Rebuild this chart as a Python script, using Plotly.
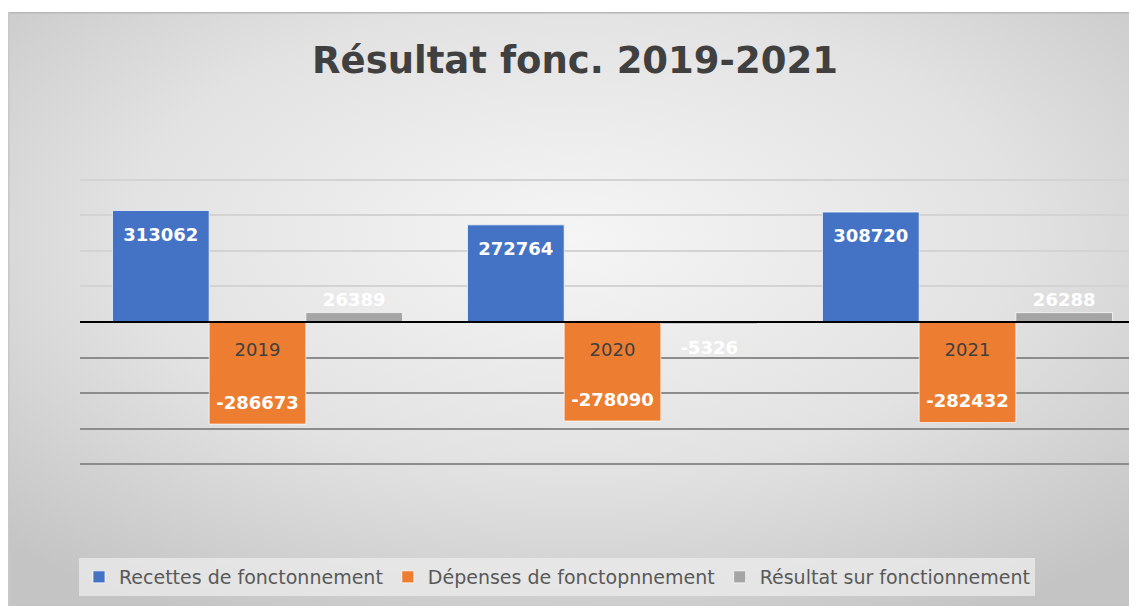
import base64
import plotly.graph_objects as go

years = ["2019", "2020", "2021"]
recettes = [313062, 272764, 308720]
depenses = [-286673, -278090, -282432]
resultat = [26389, -5326, 26288]
series_names = ["Recettes de fonctonnement", "Dépenses de fonctopnnement", "Résultat sur fonctionnement"]
title_text = "Résultat fonc. 2019-2021"
grid_pos = [100000, 200000, 300000, 400000]
grid_neg = [-100000, -200000, -300000, -400000]
y_lim = 410000

# browser body margin (8px) offsets the figure inside the window
OFF = 8
WIN_W, WIN_H = 1137, 606
W, H = WIN_W - OFF, WIN_H - OFF

def fx(px):  # window x -> figure x
    return px - OFF

def fy(py):  # window y -> figure y
    return py - OFF

scale = 35.5 / 100000.0          # px per unit
zero_y = fy(322)
L = fx(80)
cat_w = 355.0
R = 2
pw = W - L - R
ph = 2 * y_lim * scale
T = zero_y - y_lim * scale
B = H - T - ph

box_x0, box_y0 = fx(8), fy(13)
svg = f'''<svg xmlns="http://www.w3.org/2000/svg" width="{W-box_x0}" height="{H-box_y0}" viewBox="0 0 {W-box_x0} {H-box_y0}" preserveAspectRatio="none">
<defs><radialGradient id="g" cx="50%" cy="38%" r="72%">
<stop offset="0%" stop-color="#f5f5f5"/><stop offset="55%" stop-color="#e2e2e2"/><stop offset="100%" stop-color="#c4c4c4"/>
</radialGradient></defs>
<rect width="100%" height="100%" fill="url(#g)"/>
<rect x="0" y="0" width="100%" height="1.5" fill="#b8b8b8"/>
<rect x="0" y="0" width="1.5" height="100%" fill="#c8c8c8"/>
</svg>'''
src = "data:image/svg+xml;base64," + base64.b64encode(svg.encode()).decode()

colors = ["#4472C4", "#ED7D31", "#A5A5A5"]
LAB_SIZE = 18
lab_font = dict(family="DejaVu Sans", size=8, color="white", weight=700)   # small base size = tight line gap

def big(s):
    return f"<span style='font-size:{LAB_SIZE}px'>{s}</span>"

def label(v, inside):
    # a spacer line keeps the label away from the bar end, as in the original
    if inside:
        return f"{big(' ')}<br>{big(v)}" if v >= 0 else f"{big(v)}<br> "
    return big(v) if v >= 0 else f"{big(' ')}<br>{big(v)}"

fig = go.Figure()
for name, vals, col, pos in zip(series_names, [recettes, depenses, resultat], colors,
                                 ["inside", "inside", "outside"]):
    fig.add_trace(go.Bar(
        x=years, y=vals, name=name,
        marker=dict(color=col, line=dict(color="rgba(255,255,255,0.7)", width=1)),
        text=[label(v, pos == "inside") for v in vals], textposition=pos,
        insidetextanchor="end", textfont=lab_font, cliponaxis=False,
        constraintext="none",
    ))

# overlay axis carrying the darker gridlines below zero
fig.add_trace(go.Scatter(x=years, y=[0, 0, 0], yaxis="y2", mode="lines",
                         line=dict(width=0), showlegend=False, hoverinfo="skip"))

fig.update_layout(
    width=W, height=H,
    margin=dict(l=L, r=R, t=T, b=B, pad=0),
    paper_bgcolor="white", plot_bgcolor="rgba(0,0,0,0)",
    barmode="group", bargap=0.183, bargroupgap=0,
    showlegend=True,
    title=dict(text=title_text, xref="container", x=(fx(575)) / W, xanchor="center",
               yref="container", y=1 - fy(60) / H, yanchor="middle",
               font=dict(family="DejaVu Sans", size=37, color="#404040", weight=700)),
    xaxis=dict(range=[-0.5, -0.5 + pw / cat_w], showgrid=False, anchor="free", position=0.5,
               showline=True, linecolor="black", linewidth=2, ticks="", ticklabelstandoff=11,
               tickfont=dict(family="DejaVu Sans", size=18, color="#404040"), zeroline=False),
    yaxis=dict(range=[-y_lim, y_lim], tickvals=grid_pos, showticklabels=False,
               showgrid=True, gridcolor="#d3d3d3", gridwidth=1.5, zeroline=False),
    yaxis2=dict(range=[-y_lim, y_lim], overlaying="y", tickvals=grid_neg, showticklabels=False,
                showgrid=True, gridcolor="#8c8c8c", gridwidth=2, zeroline=False),
    legend=dict(orientation="h", xref="container", yref="container", x=fx(557) / W, xanchor="center",
                y=1 - fy(577) / H, yanchor="middle", bgcolor="rgba(236,236,236,0.75)",
                font=dict(family="DejaVu Sans", size=19, color="#595959"),
                itemwidth=30, tracegroupgap=0),
    images=[dict(source=src, xref="paper", yref="paper",
                 x=(box_x0 - L) / pw, y=(H - B - box_y0) / ph,
                 sizex=(W - box_x0) / pw, sizey=(H - box_y0) / ph,
                 xanchor="left", yanchor="top", sizing="stretch", layer="below")],
)
fig.write_html("out.html")
